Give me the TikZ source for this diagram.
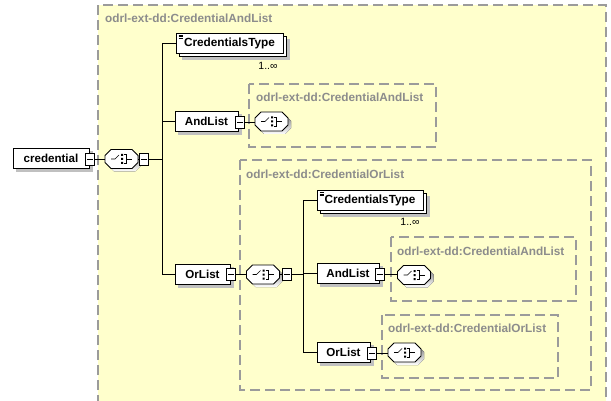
\documentclass[tikz,border=0pt]{standalone}
\usepackage{fontspec}
\setmainfont{Liberation Sans}
\usetikzlibrary{shadows,calc}

\definecolor{panel}{RGB}{255,255,204}
\definecolor{frame}{RGB}{155,155,155}
\definecolor{caption}{RGB}{140,140,140}
\definecolor{shade}{RGB}{192,192,192}

\tikzset{
  group/.style={draw=frame, line width=1.1pt, dash pattern=on 10pt off 5pt},
  grouptitle/.style={anchor=west, text=caption, inner sep=0pt,
    font=\bfseries\fontsize{11.8}{13}\selectfont},
  wire/.style={line width=0.8pt},
  elem/.style={draw, fill=white, line width=0.8pt, inner sep=0pt,
    minimum height=20pt, font=\bfseries\fontsize{11.6}{13}\selectfont,
    drop shadow={shadow xshift=3pt, shadow yshift=-3pt, fill=shade, draw=shade, opacity=1}},
  multielem/.style={draw, fill=white, line width=0.8pt, inner sep=0pt,
    minimum height=20pt, font=\bfseries\fontsize{11.8}{13}\selectfont,
    drop shadow={shadow xshift=6pt, shadow yshift=-6pt, fill=shade, draw=shade, opacity=1},
    copy shadow={shadow xshift=3pt, shadow yshift=-3pt},
    path picture={
      \draw[line width=0.5pt]
        ($(path picture bounding box.north west)+(2.5,2)$) -- ++(4,0)
        ($(path picture bounding box.north west)+(2.5,3.5)$) -- ++(4,0)
        ($(path picture bounding box.north west)+(2.5,5)$) -- ++(4,0);
    }},
  mult/.style={inner sep=0pt, font=\fontsize{10.5}{12}\selectfont},
  minus/.style={draw, fill=white, line width=0.7pt, inner sep=0pt,
    minimum width=9pt, minimum height=12pt,
    path picture={
      \draw[line width=0.7pt]
        ($(path picture bounding box.center)+(-3,0)$) -- ++(6,0);
    }},
  seqbox/.style={rectangle, inner sep=0pt, minimum width=33pt, minimum height=19pt},
  octagon/.style={line width=0.8pt},
  glyph/.style={line width=0.7pt},
}

% sequence compositor: shadow, chamfered outline and sequence glyph
\newcommand\seqshape[1]{%
  \fill[shade, shift={($(#1.center)+(3,3)$)}]
    (-16.5,-3.5) -- (-10.5,-9.5) -- (10.5,-9.5) -- (16.5,-3.5) --
    (16.5,3.5) -- (10.5,9.5) -- (-10.5,9.5) -- (-16.5,3.5) -- cycle;
  \begin{scope}[shift={(#1.center)}]
    \filldraw[octagon, fill=white]
      (-16.5,-3.5) -- (-10.5,-9.5) -- (10.5,-9.5) -- (16.5,-3.5) --
      (16.5,3.5) -- (10.5,9.5) -- (-10.5,9.5) -- (-16.5,3.5) -- cycle;
    \draw[glyph] (-10.5,0) -- (-6.5,0) -- (-2.5,-4);
    \fill[black] (-0.5,-5) rectangle (1.5,-3)
                 (-0.5,-1) rectangle (1.5,1)
                 (-0.5,3) rectangle (1.5,5);
    \draw[glyph] (2.5,-4.5) -- (5,-4.5) -- (5,4.5) -- (2.5,4.5);
    \draw[glyph] (5,0) -- (10.5,0);
  \end{scope}}

\begin{document}
\begin{tikzpicture}[x=1pt, y=-1pt]
  \clip (0,0) rectangle (611,401);
  \fill[white] (0,0) rectangle (611,401);

  % outer content model group
  \fill[panel] (98,5) rectangle (606,420);
  \draw[group] (98,420) -- (98,5) -- (606,5) -- (606,420);
  \node[grouptitle] (g0) at (105,18) {odrl-ext-dd:CredentialAndList};

  % nested type groups
  \draw[group] (249,84) rectangle (436,147);
  \node[grouptitle] (g1) at (256,97) {odrl-ext-dd:CredentialAndList};
  \draw[group] (240,160) rectangle (591,390);
  \node[grouptitle] (g2) at (246,174) {odrl-ext-dd:CredentialOrList};
  \draw[group] (391,237) rectangle (576,301);
  \node[grouptitle] (g3) at (397,251) {odrl-ext-dd:CredentialAndList};
  \draw[group] (382,315) rectangle (558,378);
  \node[grouptitle] (g4) at (388,328) {odrl-ext-dd:CredentialOrList};

  % root element and its sequence
  \node[elem, minimum width=76pt] (cred) at (51,158.5) {credential};
  \node[minus] (credm) at (90,159) {};
  \node[seqbox] (s1) at (121.5,159) {};
  \seqshape{s1}
  \node[minus] (s1m) at (144,159) {};
  \coordinate (t1) at (162,159);

  \node[multielem, minimum width=107pt] (ct1) at (229.5,43) {CredentialsType};
  \node[mult] (m1) at (268,66) {1..∞};

  \node[elem, minimum width=63pt] (and1) at (206.5,121) {AndList};
  \node[minus] (and1m) at (240,122.5) {};
  \node[seqbox] (s2) at (271.5,121.5) {};
  \seqshape{s2}

  \node[elem, minimum width=55pt] (or1) at (202.5,274) {OrList};
  \node[minus] (or1m) at (231,274.5) {};
  \node[seqbox] (s3) at (263,274.5) {};
  \seqshape{s3}
  \node[minus] (s3m) at (287,274.5) {};
  \coordinate (t2) at (303,274.5);

  \node[multielem, minimum width=106pt] (ct2) at (370,200.5) {CredentialsType};
  \node[mult] (m2) at (410,222) {1..∞};

  \node[elem, minimum width=62pt] (and2) at (348,273.5) {AndList};
  \node[minus] (and2m) at (380,274.5) {};
  \node[seqbox] (s4) at (414,275) {};
  \seqshape{s4}

  \node[elem, minimum width=53pt] (or2) at (343.5,352.5) {OrList};
  \node[minus] (or2m) at (372,353) {};
  \node[seqbox] (s5) at (404.5,352.5) {};
  \seqshape{s5}

  % connectors
  \draw[wire] (credm.east) -- (credm.east -| s1.west);
  \draw[wire] (s1.east) -- (s1.east -| s1m.west);
  \draw[wire] (s1m.east) -- (t1);
  \draw[wire] (t1) |- (ct1.west);
  \draw[wire] (t1) |- (and1.west);
  \draw[wire] (t1) |- (or1.west);
  \draw[wire] (and1m.east) -- (and1m.east -| s2.west);
  \draw[wire] (or1m.east) -- (or1m.east -| s3.west);
  \draw[wire] (s3.east) -- (s3.east -| s3m.west);
  \draw[wire] (s3m.east) -- (t2);
  \draw[wire] (t2) |- (ct2.west);
  \draw[wire] (t2) |- (and2.west);
  \draw[wire] (t2) |- (or2.west);
  \draw[wire] (and2m.east) -- (and2m.east -| s4.west);
  \draw[wire] (or2m.east) -- (or2m.east -| s5.west);
\end{tikzpicture}
\end{document}
